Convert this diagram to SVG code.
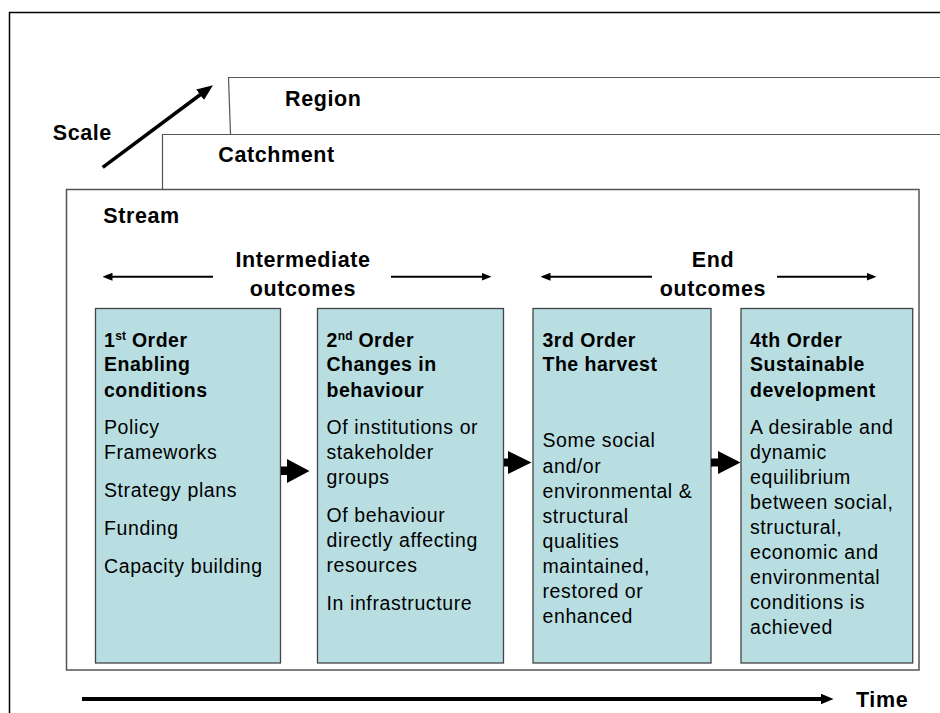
<svg xmlns="http://www.w3.org/2000/svg" width="940" height="713" viewBox="0 0 940 713">
<style>
  .lbl { font-family: "Liberation Sans", Arial, sans-serif; font-weight: bold; font-size: 21.5px; letter-spacing: 0.6px; fill: #000; }
  .hd { font-family: "Liberation Sans", Arial, sans-serif; font-weight: bold; font-size: 19.5px; letter-spacing: 0.5px; fill: #000; }
  .bd { font-family: "Liberation Sans", Arial, sans-serif; font-size: 19.5px; letter-spacing: 0.6px; fill: #000; }
  .sup { font-size: 12px; letter-spacing: 0; }
  .box { fill: #B8DEE1; stroke: #444; stroke-width: 1.3; }
  .frame { fill: none; stroke: #555; stroke-width: 1.2; }
  .thin { stroke: #000; stroke-width: 2; fill: none; }
  .blk { fill: #000; stroke: none; }
</style>
<defs>
  <marker id="ahs" markerUnits="userSpaceOnUse" markerWidth="10" markerHeight="8" viewBox="0 0 10 8" refX="0.5" refY="4" orient="auto-start-reverse">
    <path d="M0,0 L10,4 L0,8 Z" fill="#000"/>
  </marker>
  <marker id="aht" markerUnits="userSpaceOnUse" markerWidth="13" markerHeight="11" viewBox="0 0 13 11" refX="0.5" refY="5.5" orient="auto">
    <path d="M0,0 L13,5.5 L0,11 Z" fill="#000"/>
  </marker>
  <marker id="ahc" markerUnits="userSpaceOnUse" markerWidth="16" markerHeight="13" viewBox="0 0 16 13" refX="0.5" refY="6.5" orient="auto">
    <path d="M0,0 L16,6.5 L0,13 Z" fill="#000"/>
  </marker>
</defs>
<rect x="0" y="0" width="940" height="713" fill="#fff"/>

<g id="outer-frame">
  <path d="M9.5,713 V12.5 H940" fill="none" stroke="#000" stroke-width="1.5"/>
</g>

<g id="region">
  <path class="frame" d="M940,77.5 H228.5 L230.5,134"/>
  <text class="lbl" x="285" y="105.7">Region</text>
</g>

<g id="catchment">
  <path class="frame" d="M940,134.5 H162.5 V189"/>
  <text class="lbl" x="218.3" y="161.7">Catchment</text>
</g>

<g id="scale">
  <text class="lbl" x="52.7" y="140">Scale</text>
</g>

<g id="stream">
  <rect x="66.5" y="189.5" width="852.5" height="480.5" fill="#fff" stroke="#555" stroke-width="1.5"/>
  <text class="lbl" x="103.3" y="222.7">Stream</text>
</g>

<g id="intermediate-label">
  <text class="lbl" text-anchor="middle" x="303" y="267">Intermediate</text>
  <text class="lbl" text-anchor="middle" x="303" y="295.5">outcomes</text>
</g>

<g id="end-label">
  <text class="lbl" text-anchor="middle" x="713" y="267">End</text>
  <text class="lbl" text-anchor="middle" x="713" y="295.5">outcomes</text>
</g>

<g id="box1">
  <rect class="box" x="95.5" y="308.5" width="185" height="354.5"/>
  <text class="hd"><tspan x="104" y="346.7">1</tspan><tspan class="sup" dy="-7">st</tspan><tspan dy="7"> Order</tspan></text>
  <text class="hd"><tspan x="104" y="371">Enabling</tspan><tspan x="104" y="396.7">conditions</tspan></text>
  <text class="bd">
    <tspan x="104" y="434">Policy</tspan>
    <tspan x="104" y="459.3">Frameworks</tspan>
    <tspan x="104" y="496.7">Strategy plans</tspan>
    <tspan x="104" y="535">Funding</tspan>
    <tspan x="104" y="572.7">Capacity building</tspan>
  </text>
</g>

<g id="box2">
  <rect class="box" x="317.5" y="308.5" width="186" height="354.5"/>
  <text class="hd"><tspan x="326.5" y="346.7">2</tspan><tspan class="sup" dy="-7">nd</tspan><tspan dy="7"> Order</tspan></text>
  <text class="hd"><tspan x="326.5" y="371">Changes in</tspan><tspan x="326.5" y="396.7">behaviour</tspan></text>
  <text class="bd">
    <tspan x="326.5" y="434">Of institutions or</tspan>
    <tspan x="326.5" y="459.3">stakeholder</tspan>
    <tspan x="326.5" y="484.3">groups</tspan>
    <tspan x="326.5" y="521.7">Of behaviour</tspan>
    <tspan x="326.5" y="546.7">directly affecting</tspan>
    <tspan x="326.5" y="571.7">resources</tspan>
    <tspan x="326.5" y="610">In infrastructure</tspan>
  </text>
</g>

<g id="box3">
  <rect class="box" x="533" y="308.5" width="178" height="354.5"/>
  <text class="hd"><tspan x="542.5" y="346.7">3rd Order</tspan><tspan x="542.5" y="371">The harvest</tspan></text>
  <text class="bd">
    <tspan x="542.5" y="447">Some social</tspan>
    <tspan x="542.5" y="472.5">and/or</tspan>
    <tspan x="542.5" y="497.5">environmental &amp;</tspan>
    <tspan x="542.5" y="522.5">structural</tspan>
    <tspan x="542.5" y="547.5">qualities</tspan>
    <tspan x="542.5" y="572.7">maintained,</tspan>
    <tspan x="542.5" y="597.7">restored or</tspan>
    <tspan x="542.5" y="622.7">enhanced</tspan>
  </text>
</g>

<g id="box4">
  <rect class="box" x="741" y="308.5" width="171.7" height="354.5"/>
  <text class="hd"><tspan x="750" y="346.7">4th Order</tspan><tspan x="750" y="371">Sustainable</tspan><tspan x="750" y="396.7">development</tspan></text>
  <text class="bd">
    <tspan x="750" y="434">A desirable and</tspan>
    <tspan x="750" y="459.3">dynamic</tspan>
    <tspan x="750" y="484.3">equilibrium</tspan>
    <tspan x="750" y="509.3">between social,</tspan>
    <tspan x="750" y="534.3">structural,</tspan>
    <tspan x="750" y="559.3">economic and</tspan>
    <tspan x="750" y="584.3">environmental</tspan>
    <tspan x="750" y="609.3">conditions is</tspan>
    <tspan x="750" y="634.3">achieved</tspan>
  </text>
</g>

<g id="time">
  <text class="lbl" x="856" y="707">Time</text>
</g>

<g id="connectors">
  <line x1="102.7" y1="167.3" x2="200.5" y2="94.5" stroke="#000" stroke-width="3.5" marker-end="url(#ahc)"/>
  <line class="thin" x1="112" y1="276.7" x2="213" y2="276.7" marker-start="url(#ahs)"/>
  <line class="thin" x1="391" y1="276.7" x2="482" y2="276.7" marker-end="url(#ahs)"/>
  <line class="thin" x1="550" y1="276.7" x2="652" y2="276.7" marker-start="url(#ahs)"/>
  <line class="thin" x1="777" y1="276.7" x2="867" y2="276.7" marker-end="url(#ahs)"/>
  <path class="blk" d="M281,466.5 H287 V459 L309.5,471 L287,483 V475 H281 Z"/>
  <path class="blk" d="M504,458.5 H508 V451 L531.5,462.5 L508,474 V466.5 H504 Z"/>
  <path class="blk" d="M711,458.5 H718 V451 L740.5,462.5 L718,474 V466.5 H711 Z"/>
  <line x1="82" y1="699" x2="821" y2="699" stroke="#000" stroke-width="4" marker-end="url(#aht)"/>
</g>
</svg>
